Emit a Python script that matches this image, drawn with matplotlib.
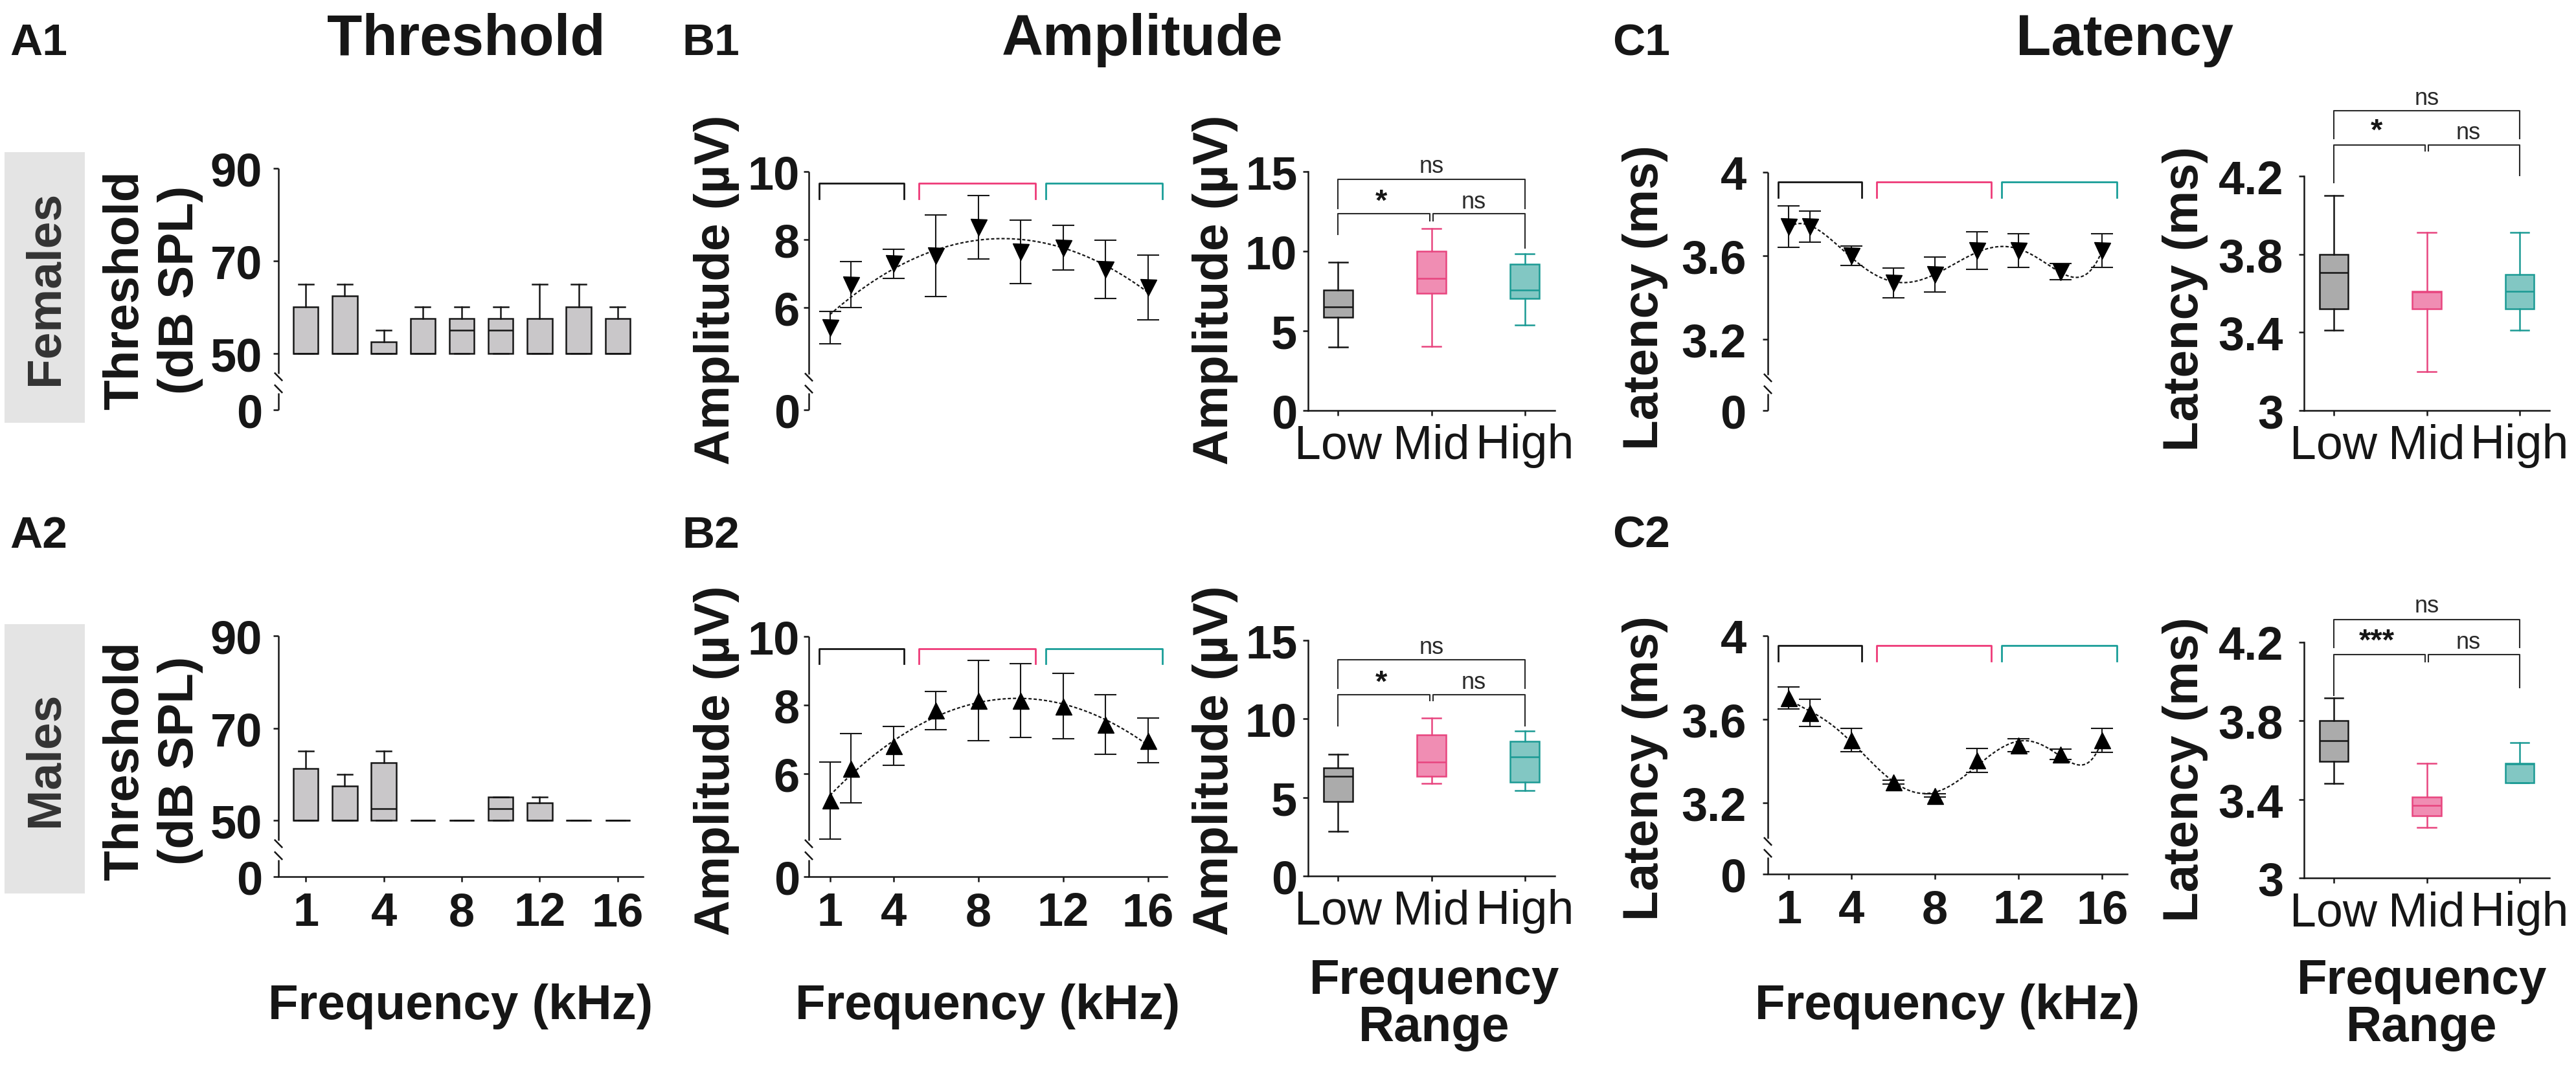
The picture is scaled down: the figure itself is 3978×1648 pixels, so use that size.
import numpy as np
import matplotlib
matplotlib.use("Agg")
import matplotlib.pyplot as plt
from matplotlib.patches import Rectangle

plt.rcParams['font.family'] = ['Liberation Sans', 'DejaVu Sans']

# ---------------- values ----------------
freq_khz = [1, 2, 4, 6, 8, 10, 12, 14, 16]
freq_ticks = [1, 4, 8, 12, 16]
range_names = ['Low', 'Mid', 'High']

# threshold boxes (dB SPL): min, q3, median, max
thr_f_min = [50, 50, 50, 50, 50, 50, 50, 50, 50]
thr_f_q3 = [60, 62.5, 52.5, 57.5, 57.5, 57.5, 57.5, 60, 57.5]
thr_f_med = [50, 50, 50, 50, 55, 55, 50, 50, 50]
thr_f_max = [65, 65, 55, 60, 60, 60, 65, 65, 60]
thr_m_min = [50, 50, 50, 50, 50, 50, 50, 50, 50]
thr_m_q3 = [61.25, 57.5, 62.5, 50, 50, 55, 53.75, 50, 50]
thr_m_med = [50, 50, 52.5, 50, 50, 52.5, 50, 50, 50]
thr_m_max = [65, 60, 65, 50, 50, 55, 55, 50, 50]

# amplitude, mean and sem (uV)
amp_f_mean = [5.42, 6.68, 7.29, 7.52, 8.36, 7.64, 7.76, 7.13, 6.60]
amp_f_sem = [0.48, 0.67, 0.42, 1.20, 0.93, 0.93, 0.66, 0.86, 0.95]
amp_m_mean = [5.22, 6.16, 6.81, 7.84, 8.14, 8.13, 7.97, 7.43, 6.97]
amp_m_sem = [1.12, 1.01, 0.57, 0.56, 1.17, 1.08, 0.96, 0.87, 0.65]

# latency, mean and sem (ms)
lat_f_mean = [3.74, 3.74, 3.60, 3.47, 3.51, 3.625, 3.625, 3.524, 3.625]
lat_f_sem = [0.10, 0.074, 0.047, 0.072, 0.084, 0.09, 0.08, 0.038, 0.08]
lat_m_mean = [3.702, 3.632, 3.502, 3.30, 3.236, 3.404, 3.475, 3.432, 3.50]
lat_m_sem = [0.052, 0.065, 0.056, 0.008, 0.008, 0.057, 0.031, 0.025, 0.057]

# range boxes: whislo, q1, median, q3, whishi
amp_f_low = [4.0, 5.85, 6.49, 7.55, 9.3]
amp_f_mid = [4.04, 7.34, 8.3, 10.0, 11.43]
amp_f_high = [5.38, 7.02, 7.55, 9.19, 9.83]
amp_m_low = [2.83, 4.75, 6.36, 6.9, 7.73]
amp_m_mid = [5.88, 6.36, 7.25, 8.98, 10.07]
amp_m_high = [5.45, 5.99, 7.58, 8.56, 9.22]
lat_f_low = [3.412, 3.519, 3.706, 3.798, 4.1]
lat_f_mid = [3.2, 3.52, 3.605, 3.61, 3.91]
lat_f_high = [3.41, 3.52, 3.61, 3.697, 3.91]
lat_m_low = [3.48, 3.593, 3.698, 3.80, 3.917]
lat_m_mid = [3.257, 3.317, 3.369, 3.412, 3.585]
lat_m_high = [3.483, 3.483, 3.58, 3.585, 3.69]

# significance: Low-Mid, Mid-High, Low-High
amp_f_sig = ['*', 'ns', 'ns']
amp_m_sig = ['*', 'ns', 'ns']
lat_f_sig = ['*', 'ns', 'ns']
lat_m_sig = ['***', 'ns', 'ns']

# ---------------- style ----------------
W, H = 3978, 1649
LW = 1.8
TICK_FS = 52
LAB_FS = 55
INK = '#161616'
NARROW = ['Liberation Sans Narrow', 'Liberation Sans']
box_fc = ['#ababab', '#f08db3', '#82c7c3']
box_ec = ['#151515', '#e8457f', '#1b9a94']
span_colors = ['#151515', '#ee3a78', '#1a9e98']
span_kHz = [(0.5, 4.5), (5.2, 10.7), (11.2, 16.7)]

fig = plt.figure(figsize=(W / 100, H / 100), dpi=100)


def px_axes(x0, x1, ytop, ybot):
    return fig.add_axes([x0 / W, 1 - ybot / H, (x1 - x0) / W, (ybot - ytop) / H])


def base_style(ax, bottom=True, ypad=10):
    for s in ['top', 'right']:
        ax.spines[s].set_visible(False)
    for s in ['left', 'bottom']:
        ax.spines[s].set_linewidth(LW)
        ax.spines[s].set_color(INK)
    ax.tick_params(width=LW, length=6, direction='out', colors=INK)
    ax.tick_params(axis='y', pad=ypad)
    ax.tick_params(axis='x', pad=10)
    if not bottom:
        ax.spines['bottom'].set_visible(False)
        ax.set_xticks([])


def set_yt(ax, ticks):
    ax.set_yticks(ticks, [f'{t:g}' for t in ticks], fontsize=TICK_FS, fontweight='bold')


def set_freq_xt(ax, positions):
    ax.set_xticks(positions, [str(f) for f in freq_ticks], fontsize=TICK_FS, fontweight='bold')


def broken_scale(ax, brk, z0):
    # values below brk are squeezed into the short segment under the break
    def fwd(y):
        y = np.asarray(y, dtype=float)
        return np.where(y >= brk, y, z0 + y * (brk - z0) / brk)

    def inv(t):
        t = np.asarray(t, dtype=float)
        return np.where(t >= brk, t, (t - z0) * brk / (brk - z0))

    ax.set_yscale('function', functions=(fwd, inv))


def draw_break(ax, hi=0.15, lo=0.07):
    ax.spines['left'].set_visible(False)
    kw = dict(transform=ax.transAxes, color=INK, lw=LW, clip_on=False, solid_capstyle='butt')
    ax.plot([0, 0], [hi, 1], **kw)
    ax.plot([0, 0], [0, lo], **kw)
    ax.plot([-0.011, 0.011], [hi + 0.004, hi - 0.03], **kw)
    ax.plot([-0.011, 0.011], [lo + 0.034, lo], **kw)


def threshold_panel(ax, mins, q3s, meds, maxs, bottom):
    pos = np.arange(len(freq_khz))
    stats = [dict(whislo=a, q1=a, med=m, q3=q, whishi=h)
             for a, q, m, h in zip(mins, q3s, meds, maxs)]
    broken_scale(ax, 45, 37.8)
    ax.bxp(stats, positions=pos, widths=0.64, capwidths=0.38, showfliers=False,
           patch_artist=True, manage_ticks=False,
           boxprops=dict(facecolor='#c9c7c9', edgecolor=INK, linewidth=LW),
           medianprops=dict(color=INK, linewidth=LW),
           whiskerprops=dict(color=INK, linewidth=LW),
           capprops=dict(color=INK, linewidth=LW))
    ax.set_ylim(0, 90)
    ax.set_xlim(-0.7, 8.65)
    base_style(ax, bottom, ypad=12)
    set_yt(ax, [0, 50, 70, 90])
    if bottom:
        set_freq_xt(ax, [freq_khz.index(f) for f in freq_ticks])
    draw_break(ax)


def trend_panel(ax, mean, sem, marker, deg, brk, z0, top, yticks, xmax,
                span_top, span_leg, bottom, ypad):
    broken_scale(ax, brk, z0)
    xs = np.linspace(freq_khz[0], freq_khz[-1], 300)
    coef = np.polyfit(freq_khz, mean, deg)
    ax.plot(xs, np.polyval(coef, xs), color=INK, lw=1.6, ls=(0, (2.2, 1.4)), zorder=2)
    ax.errorbar(freq_khz, mean, yerr=sem, fmt='none', ecolor=INK, elinewidth=1.5,
                capsize=12, capthick=1.5, zorder=3)
    ax.plot(freq_khz, mean, ls='none', marker=marker, ms=18, color='black', zorder=4)
    for (x0, x1), c in zip(span_kHz, span_colors):
        ax.plot([x0, x0, x1, x1], [span_leg, span_top, span_top, span_leg],
                color=c, lw=2.0, clip_on=False)
    ax.set_ylim(0, top)
    ax.set_xlim(0, xmax)
    base_style(ax, bottom, ypad=ypad)
    set_yt(ax, yticks)
    if bottom:
        set_freq_xt(ax, freq_ticks)
    draw_break(ax)


def range_panel(ax, boxes, sig, ylim, yticks, lines, text_y, ypad):
    stats = [dict(whislo=s[0], q1=s[1], med=s[2], q3=s[3], whishi=s[4]) for s in boxes]
    bp = ax.bxp(stats, positions=np.arange(3), widths=0.31, capwidths=0.2,
                showfliers=False, patch_artist=True, manage_ticks=False)
    for i in range(3):
        bp['boxes'][i].set(facecolor=box_fc[i], edgecolor=box_ec[i], linewidth=LW)
        bp['medians'][i].set(color=box_ec[i], linewidth=LW)
        for art in bp['whiskers'][2 * i:2 * i + 2] + bp['caps'][2 * i:2 * i + 2]:
            art.set(color=box_ec[i], linewidth=LW)
    top, top_leg, mid, leg_low, leg_mid, leg_high = lines
    kw = dict(color='#2a2a2a', lw=1.5, clip_on=False)
    ax.plot([0, 0, 2, 2], [top_leg, top, top, top_leg], **kw)
    ax.plot([0, 0, 0.98, 0.98], [leg_low, mid, mid, leg_mid], **kw)
    ax.plot([1.02, 1.02, 2, 2], [leg_mid, mid, mid, leg_high], **kw)
    ax.text(1, text_y[0], sig[2], ha='center', va='center', fontsize=26,
            family=NARROW, color='#2a2a2a')
    ax.text(0.46, text_y[1], sig[0], ha='center', va='center', fontsize=34,
            fontweight='bold', color=INK)
    ax.text(1.45, text_y[2], sig[1], ha='center', va='center', fontsize=26,
            family=NARROW, color='#2a2a2a')
    ax.set_ylim(*ylim)
    ax.set_xlim(-0.32, 2.32)
    base_style(ax, True, ypad=ypad)
    ax.tick_params(axis='x', pad=8)
    set_yt(ax, yticks)
    ax.set_xticks(np.arange(3), range_names, fontsize=53)


# ---------------- panels ----------------
axA1 = px_axes(430, 993, 261, 634)
axA2 = px_axes(430, 993, 983, 1355)
threshold_panel(axA1, thr_f_min, thr_f_q3, thr_f_med, thr_f_max, bottom=False)
threshold_panel(axA2, thr_m_min, thr_m_q3, thr_m_med, thr_m_max, bottom=True)

axB1 = px_axes(1249, 1802, 266, 634)
axB2 = px_axes(1249, 1802, 984, 1355)
trend_panel(axB1, amp_f_mean, amp_f_sem, 'v', 2, 4, 3.0, 10, [0, 6, 8, 10], 16.9,
            9.65, 9.2, False, 4)
trend_panel(axB2, amp_m_mean, amp_m_sem, '^', 2, 4, 3.0, 10, [0, 6, 8, 10], 16.9,
            9.65, 9.2, True, 4)

axB1r = px_axes(2020, 2401, 266, 635)
axB2r = px_axes(2020, 2401, 990, 1354)
range_panel(axB1r, [amp_f_low, amp_f_mid, amp_f_high], amp_f_sig, (0, 15), [0, 5, 10, 15],
            (14.5, 12.7, 12.34, 11.06, 11.9, 10.2), (15.35, 13.1, 13.1), 6)
range_panel(axB2r, [amp_m_low, amp_m_mid, amp_m_high], amp_m_sig, (0, 15), [0, 5, 10, 15],
            (13.77, 11.94, 11.52, 9.54, 11.15, 9.54), (14.55, 12.3, 12.35), 6)

axC1 = px_axes(2730, 3285, 267, 635)
axC2 = px_axes(2730, 3285, 983, 1351)
trend_panel(axC1, lat_f_mean, lat_f_sem, 'v', 6, 3, 2.86, 4, [0, 3.2, 3.6, 4], 17.2,
            3.955, 3.88, False, 18)
trend_panel(axC2, lat_m_mean, lat_m_sem, '^', 6, 3, 2.86, 4, [0, 3.2, 3.6, 4], 17.2,
            3.955, 3.88, True, 18)

axC1r = px_axes(3558, 3937, 273, 635)
axC2r = px_axes(3558, 3937, 993, 1357)
range_panel(axC1r, [lat_f_low, lat_f_mid, lat_f_high], lat_f_sig, (3, 4.2), [3, 3.4, 3.8, 4.2],
            (4.535, 4.393, 4.36, 4.167, 4.329, 4.204), (4.6, 4.43, 4.425), 17)
range_panel(axC2r, [lat_m_low, lat_m_mid, lat_m_high], lat_m_sig, (3, 4.2), [3, 3.4, 3.8, 4.2],
            (4.314, 4.172, 4.137, 3.929, 4.101, 3.970), (4.385, 4.205, 4.202), 17)


# ---------------- figure text ----------------
def ftext(x, y, s, color=INK, **kw):
    fig.text(x / W, 1 - y / H, s, color=color, **kw)


for lab, x, y in [('A1', 15, 85), ('B1', 1053, 85), ('C1', 2490, 85),
                  ('A2', 15, 846), ('B2', 1053, 846), ('C2', 2490, 846)]:
    ftext(x, y, lab, fontsize=50, fontweight='bold', va='baseline')
for title, x in [('Threshold', 720), ('Amplitude', 1764), ('Latency', 3281)]:
    ftext(x, 85, title, fontsize=64, fontweight='bold', ha='center', va='baseline')

# grey row tags
for name, ytop, ybot in [('Females', 236, 654), ('Males', 965, 1381)]:
    fig.patches.append(Rectangle((7 / W, 1 - ybot / H), 124 / W, (ybot - ytop) / H,
                                 transform=fig.transFigure, facecolor='#e4e4e4',
                                 edgecolor='none', zorder=0))
    ftext(70, (ytop + ybot) / 2, name, color='#333333', fontsize=54, fontweight='bold',
          rotation=90, ha='center', va='center')

# y labels
for yc in [448, 1175]:
    ftext(236, yc, 'Threshold\n(dB SPL)', fontsize=LAB_FS, fontweight='bold', rotation=90,
          ha='center', va='center', linespacing=1.25)
    ftext(1107, yc, 'Amplitude (µV)', fontsize=LAB_FS, fontweight='bold', rotation=90,
          ha='center', va='center')
    ftext(1876, yc, 'Amplitude (µV)', fontsize=LAB_FS, fontweight='bold', rotation=90,
          ha='center', va='center')
    ftext(2540, yc + 12, 'Latency (ms)', fontsize=LAB_FS, fontweight='bold', rotation=90,
          ha='center', va='center')
    ftext(3375, yc + 14, 'Latency (ms)', fontsize=LAB_FS, fontweight='bold', rotation=90,
          ha='center', va='center')

# x labels
for xc in [711, 1525, 3007]:
    ftext(xc, 1555, 'Frequency (kHz)', fontsize=LAB_FS, fontweight='bold',
          ha='center', va='center')
for xc in [2215, 3740]:
    ftext(xc, 1552, 'Frequency\nRange', fontsize=LAB_FS, fontweight='bold',
          ha='center', va='center', linespacing=1.05)

fig.savefig('out.png', dpi=100)
